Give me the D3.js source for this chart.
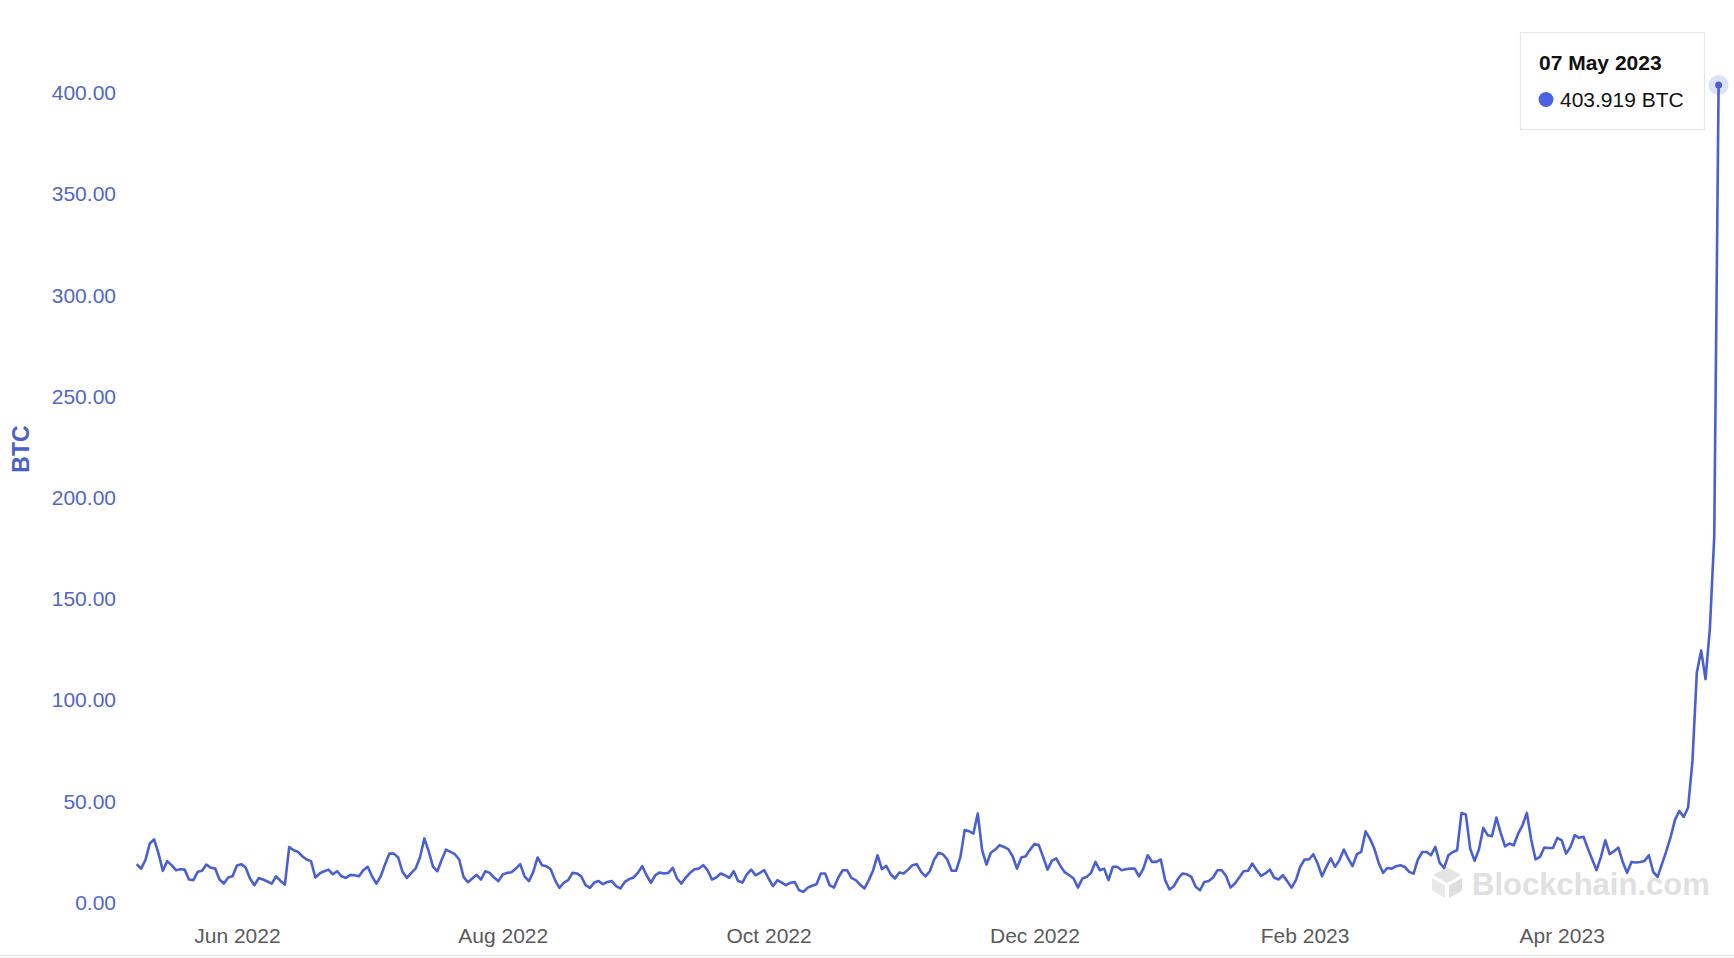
<!DOCTYPE html>
<html>
<head>
<meta charset="utf-8">
<script src="https://cdn.jsdelivr.net/npm/d3@7"></script>
<style>
  html, body { margin: 0; padding: 0; background: #ffffff; }
  svg { display: block; font-family: "Liberation Sans", Arial, Helvetica, sans-serif; }
</style>
</head>
<body>
<svg id="chart" width="1734" height="958"></svg>
<script>
// ---- Data (daily, 09 May 2022 .. 07 May 2023) ----
const startDate = "2022-05-09";
const values = [
  19.0, 16.8, 21.0, 29.2, 31.2, 24.3, 15.7, 20.5, 18.5, 16.0,
  16.5, 16.3, 11.4, 11.1, 15.2, 15.7, 18.8, 17.2, 16.8, 11.4,
  9.4, 12.4, 13.0, 18.3, 19.0, 17.3, 11.9, 8.6, 12.1, 11.4,
  10.4, 9.4, 13.0, 10.7, 8.9, 27.5, 25.9, 25.1, 22.9, 21.3,
  20.5, 12.4, 14.4, 15.5, 16.3, 14.0, 15.5, 13.0, 12.2, 13.7,
  13.5, 13.0, 16.0, 17.7, 13.0, 9.4, 13.0, 19.0, 24.2, 24.2,
  22.3, 15.2, 12.2, 14.7, 16.8, 22.3, 31.7, 25.4, 17.7, 15.5,
  21.3, 26.2, 25.1, 23.9, 21.3, 12.7, 10.1, 11.9, 13.7, 11.4,
  15.5, 14.7, 12.4, 10.6, 13.9, 14.7, 15.0, 16.8, 19.0, 13.0,
  10.6, 15.2, 22.3, 18.5, 18.0, 16.5, 11.1, 7.3, 9.8, 11.1,
  14.7, 14.4, 13.0, 8.6, 7.3, 9.9, 10.7, 9.1, 10.2, 10.6,
  8.1, 7.0, 10.2, 11.6, 12.4, 14.7, 18.0, 13.5, 9.8, 13.5,
  14.9, 14.4, 14.7, 17.2, 11.9, 9.4, 12.4, 14.7, 16.5, 16.8,
  18.5, 16.0, 11.4, 12.4, 14.4, 13.5, 12.2, 15.5, 10.7, 9.9,
  14.0, 16.3, 13.5, 14.7, 16.0, 11.9, 8.1, 11.1, 9.9, 8.6,
  9.8, 10.1, 6.1, 5.3, 7.4, 8.3, 9.1, 14.4, 14.4, 8.6,
  7.4, 12.4, 16.0, 16.0, 12.2, 11.1, 8.9, 7.0, 11.1, 16.0,
  23.4, 16.5, 18.2, 14.0, 11.9, 14.9, 14.4, 16.3, 18.5, 19.0,
  15.2, 13.0, 15.5, 21.3, 24.6, 23.9, 21.3, 15.7, 15.7, 22.3,
  35.8, 35.3, 34.1, 44.0, 25.9, 18.8, 24.6, 26.2, 28.4, 27.5,
  26.4, 22.9, 16.8, 22.3, 22.9, 26.2, 28.9, 28.4, 22.6, 16.3,
  20.6, 21.8, 18.0, 14.9, 13.5, 11.9, 7.4, 11.9, 12.7, 14.7,
  20.1, 16.0, 16.8, 11.1, 17.7, 17.7, 16.0, 16.5, 16.8, 16.8,
  13.0, 16.8, 23.4, 20.1, 20.1, 21.3, 11.1, 6.5, 8.1, 11.9,
  14.4, 14.0, 12.7, 7.8, 6.1, 10.2, 10.7, 12.4, 16.0, 16.0,
  13.0, 7.4, 9.4, 12.4, 15.5, 15.7, 19.3, 16.0, 13.2, 14.4,
  16.3, 12.4, 11.4, 13.5, 10.6, 7.4, 11.1, 17.7, 21.3, 21.3,
  23.9, 19.3, 13.0, 17.7, 21.8, 17.7, 21.0, 26.2, 21.8, 18.0,
  23.9, 25.1, 35.2, 31.5, 26.7, 19.6, 14.7, 17.1, 16.8, 18.0,
  18.5, 17.6, 15.2, 14.3, 21.3, 25.0, 25.0, 23.4, 27.5, 19.6,
  17.1, 23.4, 25.0, 25.9, 44.3, 43.5, 26.7, 20.6, 26.2, 36.9,
  33.3, 32.8, 42.0, 34.4, 27.8, 29.2, 28.3, 34.1, 38.2, 44.3,
  31.1, 21.3, 22.6, 27.2, 27.0, 27.0, 32.0, 30.8, 24.2, 27.5,
  33.3, 32.0, 32.5, 26.7, 21.3, 16.0, 22.6, 30.8, 23.9, 25.4,
  27.2, 20.1, 14.7, 20.1, 19.8, 20.1, 20.6, 23.4, 15.2, 12.7,
  19.0, 25.4, 32.5, 41.0, 45.3, 42.3, 47.0, 70.0, 113.6, 124.6,
  110.4, 135.5, 180.8, 403.919
];
const yTicks = [0, 50, 100, 150, 200, 250, 300, 350, 400, 450];
const xTickDates = ["2022-06-01", "2022-08-01", "2022-10-01", "2022-12-01", "2023-02-01", "2023-04-01"];
const yAxisTitle = "BTC";
const unit = "BTC";
const watermark = "Blockchain.com";

// ---- Derived ----
const parse = d3.utcParse("%Y-%m-%d");
const t0 = parse(startDate);
const data = values.map((v, i) => ({ date: d3.utcDay.offset(t0, i), value: v }));

const svg = d3.select("#chart");
const W = 1734, H = 958;

const x = d3.scaleUtc()
  .domain([data[0].date, data[data.length - 1].date])
  .range([136.7, 1718.6]);
const y = d3.scaleLinear()
  .domain([0, 450])
  .range([902.6, -8.2]);

const lineColor = "#4a60d0";

// bottom divider
svg.append("line").attr("x1", 0).attr("x2", W).attr("y1", 955.5).attr("y2", 955.5)
  .attr("stroke", "#e9e9e9").attr("stroke-width", 1.5);

// watermark
const wm = svg.append("g").attr("fill", "#e2e2e2");
wm.append("path").attr("d", "M1447,867 L1461,875 L1447,883 L1433,875 Z").attr("fill", "#e4e4e4");
wm.append("path").attr("d", "M1432,878 L1445,885.5 L1445,898 L1432,890.5 Z").attr("fill", "#e9e9e9");
wm.append("path").attr("d", "M1449,885.5 L1462,878 L1462,890.5 L1449,898 Z").attr("fill", "#dedede");
wm.append("text").attr("x", 1472).attr("y", 895)
  .attr("font-size", 31).attr("font-weight", "bold").attr("fill", "#e0e0e0")
  .text(watermark);

// y axis
const yAxis = svg.append("g")
  .attr("transform", "translate(124,0)")
  .call(d3.axisLeft(y).tickValues(yTicks).tickSize(0).tickPadding(8).tickFormat(d3.format(".2f")));
yAxis.select(".domain").remove();
yAxis.selectAll("text")
  .attr("font-size", 21).attr("fill", "#5266c6")
  .attr("font-family", "'Liberation Sans', Arial, sans-serif");

// y axis title
svg.append("text")
  .attr("transform", "translate(29,449) rotate(-90)")
  .attr("text-anchor", "middle")
  .attr("font-size", 23).attr("font-weight", "bold").attr("fill", "#4a5fc8")
  .text(yAxisTitle);

// x axis
const xAxis = svg.append("g")
  .attr("transform", "translate(0,922)")
  .call(d3.axisBottom(x).tickValues(xTickDates.map(parse)).tickSize(0).tickPadding(6)
    .tickFormat(d3.utcFormat("%b %Y")));
xAxis.select(".domain").remove();
xAxis.selectAll("text")
  .attr("font-size", 21).attr("fill", "#5a5a5a")
  .attr("font-family", "'Liberation Sans', Arial, sans-serif");

// line
const line = d3.line().x(d => x(d.date)).y(d => y(d.value));
svg.append("path").datum(data)
  .attr("fill", "none").attr("stroke", lineColor)
  .attr("stroke-width", 2.6).attr("stroke-linejoin", "round")
  .attr("d", line);

// hover marker on last point
const last = data[data.length - 1];
svg.append("circle").attr("cx", x(last.date)).attr("cy", y(last.value)).attr("r", 10)
  .attr("fill", lineColor).attr("fill-opacity", 0.18);
svg.append("circle").attr("cx", x(last.date)).attr("cy", y(last.value)).attr("r", 3.5)
  .attr("fill", lineColor);

// tooltip
const tip = svg.append("g");
tip.append("rect").attr("x", 1520.5).attr("y", 32.5).attr("width", 184).attr("height", 97)
  .attr("fill", "#ffffff").attr("stroke", "#e6e6e6").attr("stroke-width", 1.2);
tip.append("text").attr("x", 1539).attr("y", 70)
  .attr("font-size", 21).attr("font-weight", "bold").attr("fill", "#111111")
  .text(d3.utcFormat("%d %b %Y")(last.date));
tip.append("circle").attr("cx", 1546).attr("cy", 99.5).attr("r", 7.5).attr("fill", "#4b63e0");
tip.append("text").attr("x", 1560).attr("y", 106.5)
  .attr("font-size", 21).attr("fill", "#111111")
  .text(d3.format(".3f")(last.value) + " " + unit);
</script>
</body>
</html>
